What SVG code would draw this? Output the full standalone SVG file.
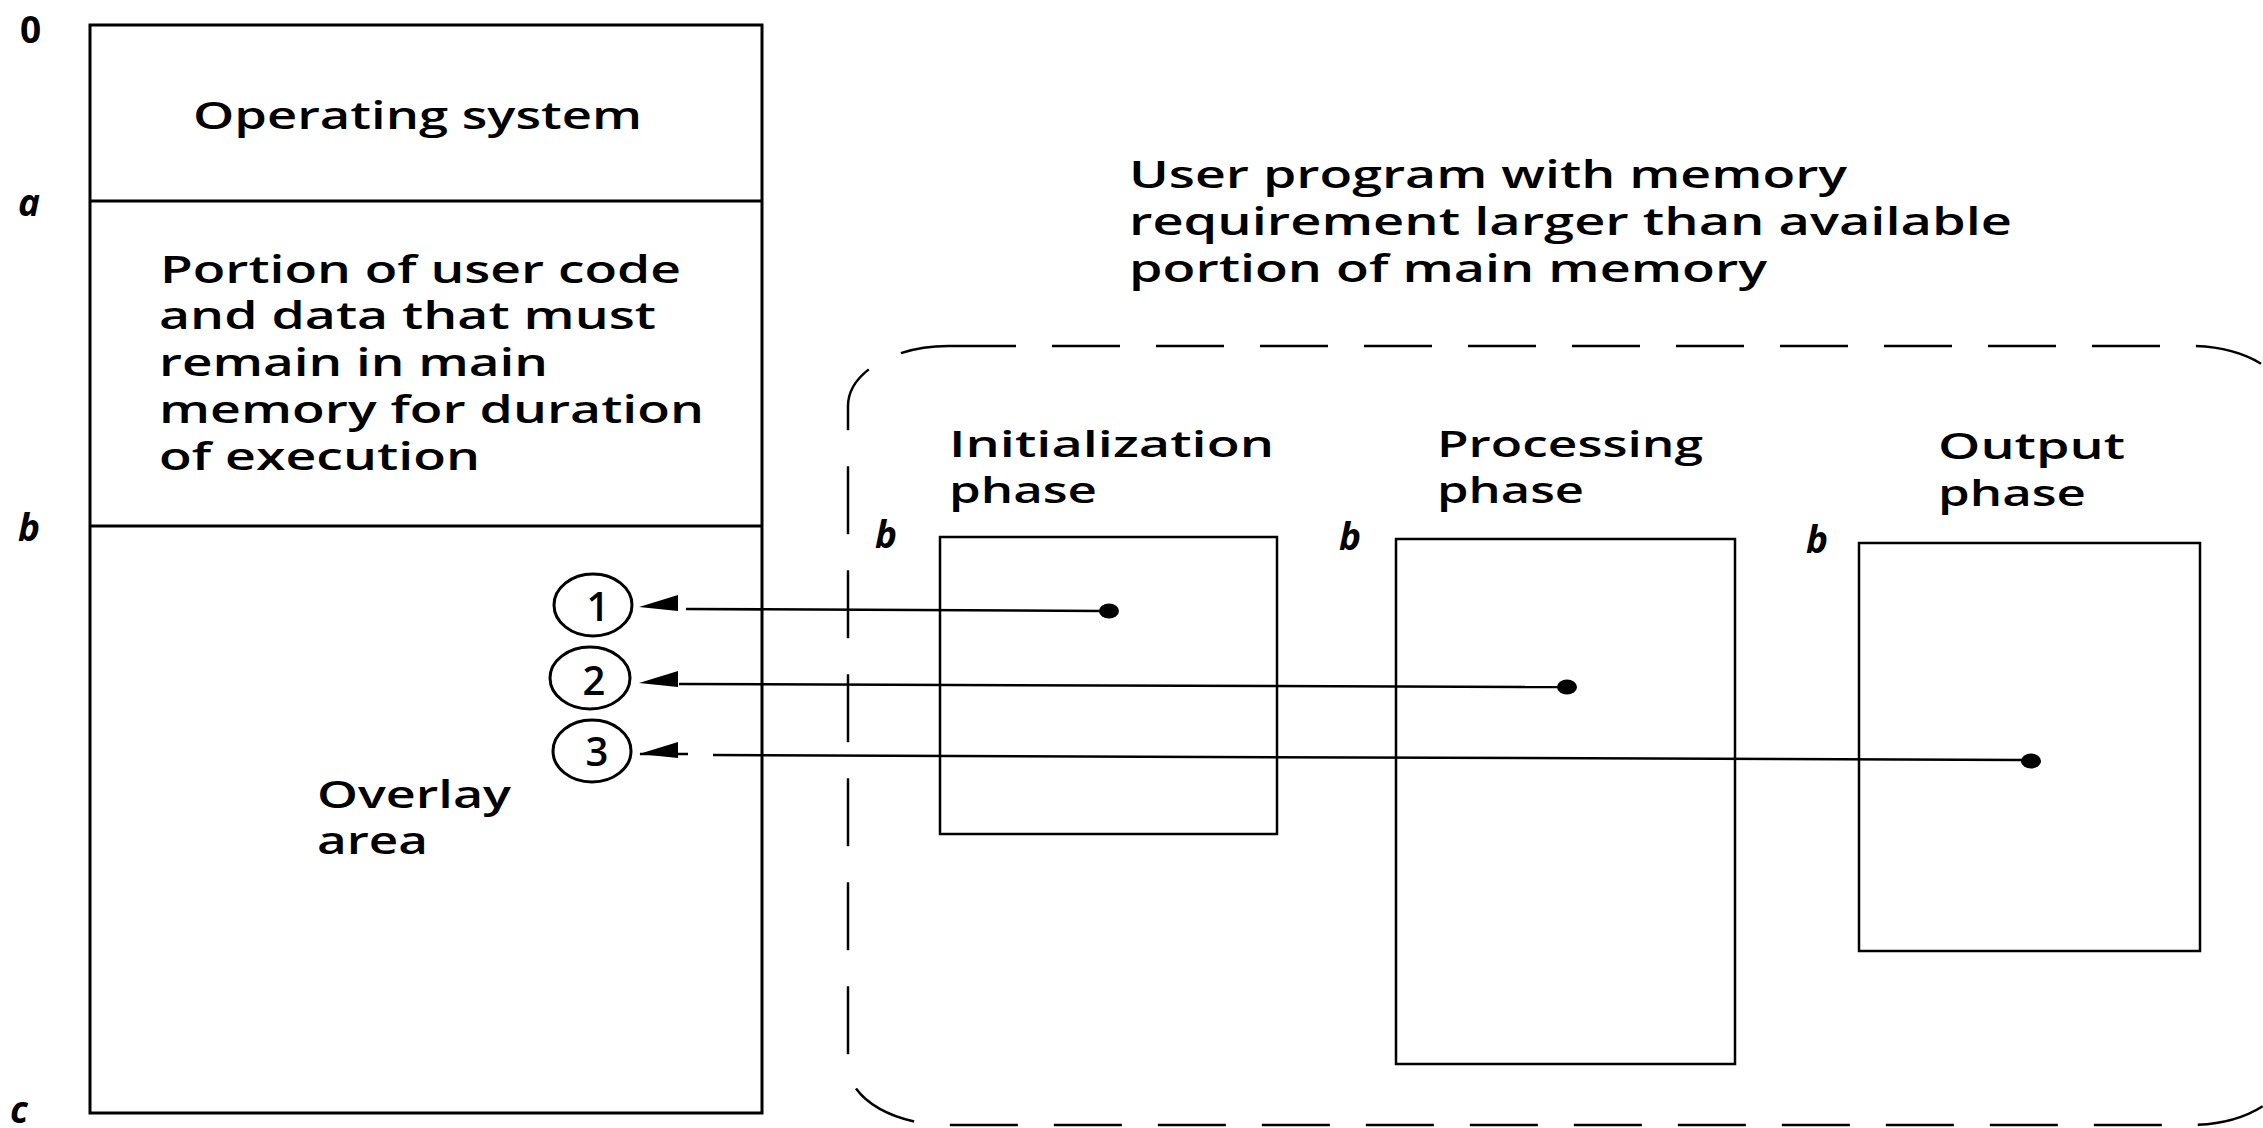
<svg xmlns="http://www.w3.org/2000/svg" width="2263" height="1128" viewBox="0 0 2263 1128">
<style>
  .t { font-family: "Open Sans", "Liberation Sans", sans-serif; font-size: 38px; font-weight: 600; fill: #000; }
  .ph { font-family: "Open Sans", "Liberation Sans", sans-serif; font-size: 36px; font-weight: 600; fill: #000; }
  .num { font-family: "Open Sans", "Liberation Sans", sans-serif; font-size: 40px; font-weight: 600; fill: #000; text-anchor: middle; }
  .lab { font-family: "Open Sans", "Liberation Sans", sans-serif; font-size: 37px; font-style: italic; font-weight: bold; fill: #000; }
  .box { fill: none; stroke: #000; stroke-width: 3; }
  .pbox { fill: none; stroke: #000; stroke-width: 2.5; }
  .dash { fill: none; stroke: #000; stroke-width: 2.5; stroke-dasharray: 68 36; }
  .conn { fill: none; stroke: #000; stroke-width: 2.5; }
  .circ { fill: none; stroke: #000; stroke-width: 3; }
</style>
<defs>
  <polygon id="ah" points="0,0 39,-12 39,4" fill="#000"/>
</defs>
<rect width="2263" height="1128" fill="#fff"/>

<g id="memory">
  <rect class="box" x="90" y="25" width="672" height="1088"/>
  <line class="box" x1="90" y1="201" x2="762" y2="201"/>
  <line class="box" x1="90" y1="526" x2="762" y2="526"/>
  <text class="lab" x="20" y="43" style="font-style:normal">0</text>
  <text class="lab" x="18" y="216">a</text>
  <text class="lab" x="18" y="541">b</text>
  <text class="lab" x="10" y="1123">c</text>
  <text class="t" x="193" y="129" textLength="449" lengthAdjust="spacingAndGlyphs">Operating system</text>
  <text class="t" x="160" y="283" textLength="521" lengthAdjust="spacingAndGlyphs">Portion of user code</text>
  <text class="t" x="159" y="329" textLength="497" lengthAdjust="spacingAndGlyphs">and data that must</text>
  <text class="t" x="159" y="376" textLength="389" lengthAdjust="spacingAndGlyphs">remain in main</text>
  <text class="t" x="159" y="423" textLength="545" lengthAdjust="spacingAndGlyphs">memory for duration</text>
  <text class="t" x="159" y="470" textLength="321" lengthAdjust="spacingAndGlyphs">of execution</text>
  <text class="t" x="317" y="808" textLength="194" lengthAdjust="spacingAndGlyphs">Overlay</text>
  <text class="t" x="317" y="854" textLength="111" lengthAdjust="spacingAndGlyphs">area</text>
</g>

<g id="overlay-1">
  <ellipse class="circ" cx="593" cy="605" rx="39" ry="31"/>
  <text class="num" x="598" y="621">1</text>
</g>
<g id="overlay-2">
  <ellipse class="circ" cx="590" cy="678" rx="40" ry="31"/>
  <text class="num" x="594" y="695">2</text>
</g>
<g id="overlay-3">
  <ellipse class="circ" cx="592" cy="751" rx="39" ry="31"/>
  <text class="num" x="597" y="766">3</text>
</g>

<g id="user-program">
  <rect class="dash" x="848" y="346" width="1442" height="779" rx="100" ry="60"/>
  <text class="t" x="1129" y="188" textLength="718" lengthAdjust="spacingAndGlyphs">User program with memory</text>
  <text class="t" x="1129" y="235" textLength="883" lengthAdjust="spacingAndGlyphs">requirement larger than available</text>
  <text class="t" x="1129" y="282" textLength="638" lengthAdjust="spacingAndGlyphs">portion of main memory</text>
</g>

<g id="init-phase">
  <rect class="pbox" x="940" y="537" width="337" height="297"/>
  <text class="lab" x="875" y="548">b</text>
  <text class="ph" x="949" y="457" textLength="325" lengthAdjust="spacingAndGlyphs">Initialization</text>
  <text class="ph" x="949" y="503" textLength="148" lengthAdjust="spacingAndGlyphs">phase</text>
</g>

<g id="processing-phase">
  <rect class="pbox" x="1396" y="539" width="339" height="525"/>
  <text class="lab" x="1339" y="550">b</text>
  <text class="ph" x="1437" y="457" textLength="266" lengthAdjust="spacingAndGlyphs">Processing</text>
  <text class="ph" x="1437" y="503" textLength="147" lengthAdjust="spacingAndGlyphs">phase</text>
</g>

<g id="output-phase">
  <rect class="pbox" x="1859" y="543" width="341" height="408"/>
  <text class="lab" x="1806" y="553">b</text>
  <text class="ph" x="1938" y="459" textLength="187" lengthAdjust="spacingAndGlyphs">Output</text>
  <text class="ph" x="1938" y="506" textLength="148" lengthAdjust="spacingAndGlyphs">phase</text>
</g>

<g id="connectors">
  <use href="#ah" x="639" y="607"/>
  <line class="conn" x1="686" y1="609" x2="1102" y2="611"/>
  <ellipse cx="1109" cy="611" rx="10" ry="7.5" fill="#000"/>

  <use href="#ah" x="639" y="683"/>
  <line class="conn" x1="679" y1="684" x2="1560" y2="687"/>
  <ellipse cx="1567" cy="687" rx="10" ry="7.5" fill="#000"/>

  <use href="#ah" x="639" y="754"/>
  <line class="conn" x1="640" y1="754" x2="688" y2="754"/>
  <line class="conn" x1="713" y1="755" x2="2022" y2="760"/>
  <ellipse cx="2031" cy="761" rx="10" ry="7.5" fill="#000"/>
</g>
</svg>
